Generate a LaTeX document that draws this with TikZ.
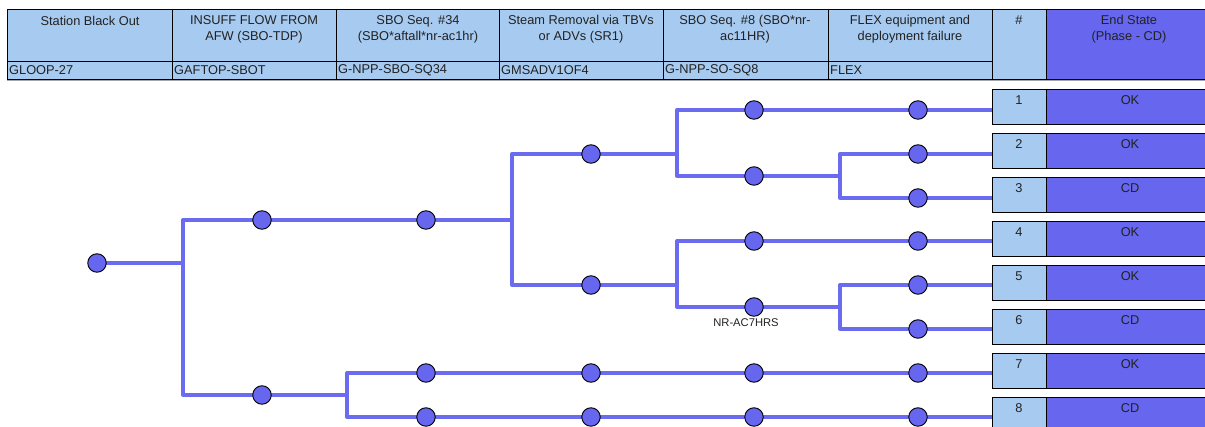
\documentclass[tikz,border=0pt]{standalone}
\usepackage{fontspec}
\setmainfont{Liberation Sans}
\definecolor{hdr}{HTML}{A6CAF0}
\definecolor{es}{HTML}{6666EE}
\definecolor{ln}{HTML}{6B6BF0}
\definecolor{tx}{HTML}{222222}
\pgfdeclarelayer{background}
\pgfsetlayers{background,main}
\begin{document}
\begin{tikzpicture}[x=1pt,y=-1pt,
  txt/.style={font=\fontsize{12.8}{16}\selectfont, text=tx, inner sep=0pt},
  ev/.style={circle, draw=black, line width=0.9pt, fill=es, minimum size=18.5pt, inner sep=0pt},
  br/.style={draw=ln, line width=3.3pt, line cap=round, line join=round},
  numbox/.style={rectangle, draw=black, line width=0.9pt, fill=hdr, minimum width=54pt, minimum height=35pt, inner sep=0pt, anchor=north west},
  esbox/.style={rectangle, draw=black, line width=0.9pt, fill=es, minimum width=170pt, minimum height=35pt, inner sep=0pt, anchor=north west}
]
\useasboundingbox (0,0) rectangle (1205,427);
% header
\fill[hdr] (7,9) rectangle (1046,79);
\fill[es] (1046,9) rectangle (1215,79);
\draw[gray!70, line width=1pt] (7,80.5) -- (1215,80.5);
\draw[black, line width=0.9pt] (7,9) rectangle (1215,79);
\draw[black, line width=0.9pt] (7,61) -- (992,61);
\foreach \x in {172,336,499,663,828,992,1046} \draw[black, line width=0.9pt] (\x,9) -- (\x,79);
\node[txt, align=center] (h1) at (90,21) {Station Black Out};
\node[txt, align=center] (h2) at (254,29) {INSUFF FLOW FROM\\AFW (SBO-TDP)};
\node[txt, align=center] (h3) at (418,29) {SBO Seq. \#34\\(SBO*aftall*nr-ac1hr)};
\node[txt, align=center] (h4) at (581,29) {Steam Removal via TBVs\\or ADVs (SR1)};
\node[txt, align=center] (h5) at (745,29) {SBO Seq. \#8 (SBO*nr-\\ac11HR)};
\node[txt, align=center] (h6) at (910,29) {FLEX equipment and\\deployment failure};
\node[txt] (h7) at (1019,20) {\#};
\node[txt, align=center] (h8) at (1129,29) {End State\\(Phase - CD)};
\node[txt, anchor=west] (c1) at (9,70) {GLOOP-27};
\node[txt, anchor=west] (c2) at (174,70) {GAFTOP-SBOT};
\node[txt, anchor=west] (c3) at (338,70) {G-NPP-SBO-SQ34};
\node[txt, anchor=west] (c4) at (501,70) {GMSADV1OF4};
\node[txt, anchor=west] (c5) at (665,70) {G-NPP-SO-SQ8};
\node[txt, anchor=west] (c6) at (830,70) {FLEX};
% end state rows
\foreach \i/\y/\s in {1/89/OK,2/133/OK,3/177/CD,4/221/OK,5/265/OK,6/309/CD,7/353/OK,8/397/CD}{
  \node[numbox] (r\i) at (992,\y) {};
  \node[esbox] (s\i) at (1046,\y) {};
  \node[txt] (rn\i) at (1019,\y+11) {\i};
  \node[txt] (sn\i) at (1130,\y+11) {\s};
}
% split coordinates
\coordinate (p0) at (183,263);
\coordinate (p1) at (512,220);
\coordinate (p2) at (677,154);
\coordinate (p3) at (840,176);
\coordinate (p4) at (677,285);
\coordinate (p5) at (840,307);
\coordinate (p6) at (347,395);
% events
\node[ev] (n0) at (97,263) {};
\node[ev] (a1) at (262,220) {};
\node[ev] (a2) at (426,220) {};
\node[ev] (b1) at (591,154) {};
\node[ev] (b2) at (591,285) {};
\node[ev] (c11) at (754,110) {};
\node[ev] (c12) at (754,176) {};
\node[ev] (c21) at (754,241) {};
\node[ev] (c22) at (754,307) {};
\node[ev] (d1) at (918,110) {};
\node[ev] (d2) at (918,154) {};
\node[ev] (d3) at (918,198) {};
\node[ev] (d4) at (918,241) {};
\node[ev] (d5) at (918,285) {};
\node[ev] (d6) at (918,329) {};
\node[ev] (g1) at (262,395) {};
\node[ev] (g2) at (426,373) {};
\node[ev] (g3) at (591,373) {};
\node[ev] (g4) at (754,373) {};
\node[ev] (d7) at (918,373) {};
\node[ev] (k2) at (426,417) {};
\node[ev] (k3) at (591,417) {};
\node[ev] (k4) at (754,417) {};
\node[ev] (d8) at (918,417) {};
\node[txt, font=\fontsize{11.2}{13}\selectfont] (lab) at (746,323) {NR-AC7HRS};
% branches under the events
\begin{pgfonlayer}{background}
\fill[white] (0,0) rectangle (1205,427);
\draw[br] (n0.center) -- (p0) |- (a1.center);
\draw[br] (p0) |- (g1.center);
\draw[br] (a1.center) -- (a2.center);
\draw[br] (a2.center) -- (p1) |- (b1.center);
\draw[br] (p1) |- (b2.center);
\draw[br] (b1.center) -- (p2) |- (c11.center);
\draw[br] (p2) |- (c12.center);
\draw[br] (c11.center) -- (d1.center);
\draw[br] (c12.center) -- (p3) |- (d2.center);
\draw[br] (p3) |- (d3.center);
\draw[br] (b2.center) -- (p4) |- (c21.center);
\draw[br] (p4) |- (c22.center);
\draw[br] (c21.center) -- (d4.center);
\draw[br] (c22.center) -- (p5) |- (d5.center);
\draw[br] (p5) |- (d6.center);
\draw[br] (g1.center) -- (p6) |- (g2.center);
\draw[br] (p6) |- (k2.center);
\draw[br] (g2.center) -- (g3.center);
\draw[br] (g3.center) -- (g4.center);
\draw[br] (g4.center) -- (d7.center);
\draw[br] (k2.center) -- (k3.center);
\draw[br] (k3.center) -- (k4.center);
\draw[br] (k4.center) -- (d8.center);
\foreach \i in {1,...,8} \draw[br, line cap=butt] (d\i.center) -- (d\i -| r\i.west);
\end{pgfonlayer}
\end{tikzpicture}
\end{document}
